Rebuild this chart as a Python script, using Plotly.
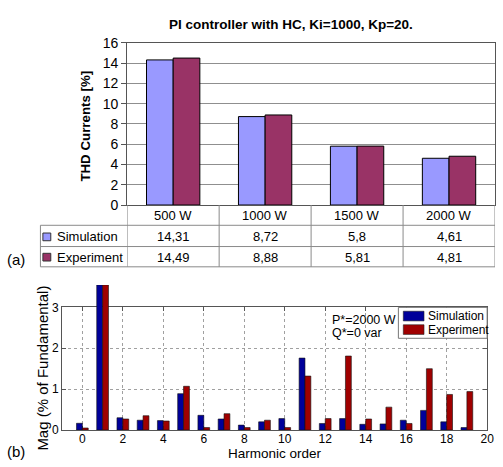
import plotly.graph_objects as go

# ---------------- data ----------------
loads = ["500 W", "1000 W", "1500 W", "2000 W"]
thd_sim = [14.31, 8.72, 5.8, 4.61]
thd_exp = [14.49, 8.88, 5.81, 4.81]

harmonics = list(range(0, 20))
mag_sim = [0.165, 3.55, 0.30, 0.24, 0.23, 0.89, 0.36, 0.27, 0.12, 0.20,
           0.28, 1.76, 0.16, 0.28, 0.14, 0.15, 0.24, 0.48, 0.20, 0.06]
mag_exp = [0.05, 3.55, 0.27, 0.35, 0.22, 1.07, 0.06, 0.40, 0.06, 0.24,
           0.06, 1.32, 0.28, 1.81, 0.27, 0.56, 0.16, 1.50, 0.87, 0.94]
series_names = ["Simulation", "Experiment"]

W, H = 503, 467
FONT = "Liberation Sans, Arial, sans-serif"


def px(x):
    return x / W


def py(y):
    return 1 - y / H


C_SIM_A, C_EXP_A = "#9999FF", "#993366"
C_SIM_B, C_EXP_B = "#00009A", "#A00000"

# bottom chart: framed box from 0 to 3, bars drawn on a twin (hidden) axis pair
X2_RANGE = [-1, 20]
Y2_FRAME = 3
Y2_TOP = 3.55
X2_DOM = [px(63), px(494)]
BOT_PX, FRAME_PX = 437, 310
TOP_PX = BOT_PX - (BOT_PX - FRAME_PX) * Y2_TOP / Y2_FRAME

fig = go.Figure()

# ---- top chart ----
fig.add_trace(go.Bar(x=loads, y=thd_sim, name=series_names[0],
                     marker=dict(color=C_SIM_A, line=dict(color="black", width=1)),
                     xaxis="x", yaxis="y"))
fig.add_trace(go.Bar(x=loads, y=thd_exp, name=series_names[1],
                     marker=dict(color=C_EXP_A, line=dict(color="black", width=1)),
                     xaxis="x", yaxis="y"))

# ---- bottom chart ----
# invisible carrier so the framed x2/y2 subplot (box, ticks, dotted grid) is drawn
fig.add_trace(go.Scatter(x=harmonics, y=mag_sim, mode="none", hoverinfo="skip",
                         xaxis="x2", yaxis="y2"))
fig.add_trace(go.Bar(x=harmonics, y=mag_sim, name=series_names[0],
                     marker=dict(color=C_SIM_B, line=dict(color="#111", width=0.6)),
                     xaxis="x3", yaxis="y3"))
fig.add_trace(go.Bar(x=harmonics, y=mag_exp, name=series_names[1],
                     marker=dict(color=C_EXP_B, line=dict(color="#111", width=0.6)),
                     xaxis="x3", yaxis="y3"))

GRID = "#a0a0a0"
FRAME = "#555"
fig.update_layout(
    width=W, height=H, autosize=False,
    margin=dict(l=0, r=0, t=0, b=0),
    paper_bgcolor="white", plot_bgcolor="rgba(0,0,0,0)",
    font=dict(family=FONT, color="black"),
    barmode="group", bargap=0.42, bargroupgap=0,
    showlegend=False,
    xaxis=dict(domain=[px(129), px(502)], range=[-0.5, 3.5], type="category",
               showticklabels=False, ticks="", showline=True, linecolor=FRAME, linewidth=1,
               mirror=True, showgrid=False, zeroline=False, fixedrange=True),
    yaxis=dict(domain=[py(204), py(36)], range=[0, 16], dtick=2, showgrid=True,
               gridcolor="#8f8f8f", gridwidth=1, ticks="outside", ticklen=5, tickcolor=FRAME,
               showline=True, linecolor=FRAME, linewidth=1, mirror=True, zeroline=False,
               tickfont=dict(size=14, family=FONT), fixedrange=True),
    # visible frame + dotted grid of the bottom chart
    xaxis2=dict(domain=X2_DOM, range=X2_RANGE, tick0=0, dtick=2, showgrid=True,
                gridcolor=GRID, griddash="dot", gridwidth=1, ticks="inside", ticklen=4,
                tickcolor=FRAME, showline=True, linecolor=FRAME, mirror="ticks", zeroline=False,
                tickfont=dict(size=12, family=FONT), ticklabelstandoff=-2,
                anchor="y2", fixedrange=True),
    yaxis2=dict(domain=[py(BOT_PX), py(FRAME_PX)], range=[0, Y2_FRAME], dtick=1, showgrid=True,
                gridcolor=GRID, griddash="dot", gridwidth=1, ticks="inside", ticklen=4,
                tickcolor=FRAME, showline=True, linecolor=FRAME, mirror="ticks", zeroline=False,
                tickfont=dict(size=12, family=FONT), anchor="x2", fixedrange=True),
    # hidden twin axes carrying the bars (same scale, taller so bar 1 is not clipped)
    xaxis3=dict(domain=X2_DOM, range=X2_RANGE, visible=False, anchor="y3", fixedrange=True),
    yaxis3=dict(domain=[py(BOT_PX), py(TOP_PX)], range=[0, Y2_TOP], visible=False,
                anchor="x3", fixedrange=True),
)

ann = []
shapes = []


def note(text, x, y, size, xref="paper", yref="paper", xanchor="center", angle=0):
    ann.append(dict(text=text, x=x, y=y, xref=xref, yref=yref, xanchor=xanchor, yanchor="middle",
                    showarrow=False, textangle=angle, font=dict(size=size)))


# titles
note("<b>PI controller with HC, Ki=1000, Kp=20.</b>", px(295.5), py(17), 13.5)
note("<b>THD Currents [%]</b>", px(87), py(122), 13.3, angle=-90)
note("(a)", px(16), py(260), 15)
note("(b)", px(16), py(459), 15)
note("Mag (% of Fundamental)", px(43), py(373), 15, angle=-90)
note("Harmonic order", px(278.5), py(461.5), 13.5)
note("P*=2000 W", px(335), py(323), 12.5, xanchor="left")
note("Q*=0 var", px(335), py(337), 12.5, xanchor="left")

# data table under the top chart
ROW_HDR, ROW_SIM, ROW_EXP = 215, 237, 258
for i, cat in enumerate(loads):
    note(cat, cat, py(ROW_HDR), 13, xref="x")
    note(str(thd_sim[i]).replace(".", ","), cat, py(ROW_SIM), 13, xref="x")
    note(str(thd_exp[i]).replace(".", ","), cat, py(ROW_EXP), 13, xref="x")

for label, row, col in [(series_names[0], ROW_SIM, C_SIM_A), (series_names[1], ROW_EXP, C_EXP_A)]:
    note(label, px(56), py(row), 13, xanchor="left")
    shapes.append(dict(type="rect", xref="paper", yref="paper", x0=px(43.5), x1=px(51.5),
                       y0=py(row + 4), y1=py(row - 4), fillcolor=col, line=dict(color="#333", width=1)))

GRAY = "#8a8a8a"
for yl in [225, 247, 268]:
    shapes.append(dict(type="line", xref="paper", yref="paper", x0=px(41), x1=px(502),
                       y0=py(yl), y1=py(yl), line=dict(color=GRAY, width=1)))
for xb in [-0.5, 0.5, 1.5, 2.5, 3.5]:
    shapes.append(dict(type="line", xref="x", yref="paper", x0=xb, x1=xb,
                       y0=py(204), y1=py(268), line=dict(color=GRAY, width=1)))
shapes.append(dict(type="line", xref="paper", yref="paper", x0=px(41), x1=px(41),
                   y0=py(225), y1=py(268), line=dict(color=GRAY, width=1)))

# bottom chart legend box
shapes.append(dict(type="rect", xref="paper", yref="paper", x0=px(404), x1=px(494),
                   y0=py(342), y1=py(310), fillcolor="white", line=dict(color="#777", width=1)))
for label, yc, col in [(series_names[0], 319, C_SIM_B), (series_names[1], 333, C_EXP_B)]:
    shapes.append(dict(type="rect", xref="paper", yref="paper", x0=px(409), x1=px(430),
                       y0=py(yc + 5), y1=py(yc - 5), fillcolor=col, line=dict(color="#222", width=0.6)))
    note(label, px(432.5), py(yc), 12, xanchor="left")

fig.update_layout(annotations=ann, shapes=shapes)

fig.write_html("out.html")
